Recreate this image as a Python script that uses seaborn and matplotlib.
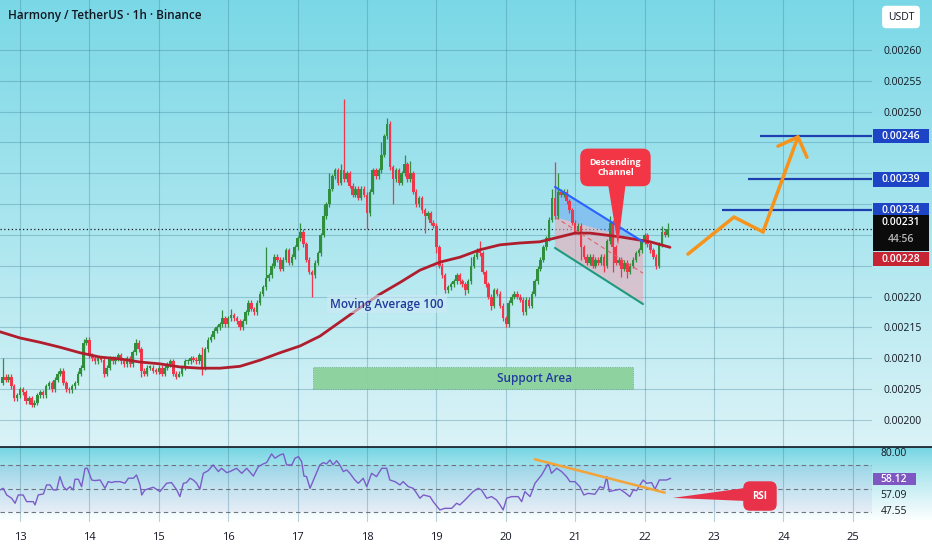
import numpy as np
import pandas as pd
import matplotlib
matplotlib.use('Agg')
import matplotlib.pyplot as plt
from matplotlib.patches import Polygon, Rectangle
import seaborn as sns

sns.set_theme(style='white')
plt.rcParams['font.family'] = ['Open Sans', 'DejaVu Sans']

# hourly closes, price in 1e-5 USDT; first candle opens at day 12.75
closes = [
    207, 206.5, 207, 205.5, 203.5, 204, 205, 204.5, 203, 203.5,
    202.5, 202.8, 204, 204.5, 204, 205.5, 206, 205, 206.5, 207.5,
    208, 206, 205, 204.8, 205.5, 206, 207.5, 208.5, 212.5, 213,
    210.5, 210, 209.5, 210, 209.8, 207.5, 208.5, 210, 209.5, 210,
    210.5, 209.5, 209, 210, 209, 211, 212.5, 211.5, 208, 207.5,
    208.5, 208.5, 208, 207.8, 208.5, 207.5, 208.5, 209, 209.5, 207.5,
    207, 207.5, 208.5, 209.5, 209.5, 210, 209.8, 209.5, 210.5, 208.5,
    211.5, 213, 213.5, 214.5, 215, 215.5, 216.5, 215.5, 216.5, 217,
    216.5, 216, 215, 216, 217.5, 219, 218, 217.5, 219, 220.5,
    221.5, 223, 223.5, 225, 226.5, 226, 224.5, 226, 227.5, 225.5,
    226.5, 228, 229.5, 230.5, 228.5, 226, 224, 223.5, 225.5, 227,
    230, 233, 235, 237.5, 239.5, 240.5, 238.5, 240.5, 239, 240,
    238, 236.5, 237.5, 236, 237.5, 236.5, 233.5, 237, 240.5, 239.5,
    240.5, 243, 246, 248, 241, 239, 240.5, 238.5, 240, 241.5,
    239, 240, 237, 235, 236, 234, 233, 233.5, 232, 231.5,
    228, 225, 223.5, 221, 221.5, 222, 222.5, 223.5, 222.5, 222,
    221, 222.5, 225, 226.5, 227.5, 227, 224, 222, 220, 218.5,
    221, 220.5, 218.5, 216.5, 215.5, 219, 220, 220.5, 220, 219.5,
    217.5, 219.5, 218.5, 220.5, 222.5, 224.5, 226, 228, 229.5, 232.5,
    236, 233, 237, 236.5, 237, 235.5, 234, 232, 230.5, 231.5,
    228, 226.5, 225.5, 226.5, 225, 226, 225.5, 226.5, 225, 229,
    232, 228, 225.5, 226, 224.5, 225.5, 224, 225, 226, 227,
    227.5, 229, 230, 228.5, 227.5, 226.5, 225, 228.5, 230.5, 230,
    231,
]
first_open = 206
wick_hi = {0: 210, 28: 213.2, 46: 213.2, 69: 211.8, 76: 217.8, 79: 218, 91: 228,
           103: 232, 111: 235, 113: 240, 117: 241.5, 118: 252, 131: 245, 133: 249,
           139: 243, 141: 242, 162: 226.5, 165: 229, 190: 237.5, 191: 241.8,
           192: 240, 210: 233, 228: 231.5, 230: 232}
wick_lo = {4: 203, 11: 202.1, 35: 207, 48: 207, 61: 206.9, 69: 207.3, 107: 220,
           126: 231, 135: 235, 146: 230.3, 150: 227, 160: 220.3, 169: 217.8,
           174: 215, 180: 217, 200: 226, 208: 224, 211: 224, 214: 223.2,
           216: 223, 226: 224.5}

ma_days = [12.712, 13.0, 13.288, 13.576, 13.865, 14.153, 14.441, 14.729, 15.017,
           15.305, 15.594, 15.882, 16.17, 16.458, 16.746, 17.035, 17.323, 17.611,
           17.899, 18.187, 18.476, 18.764, 19.052, 19.34, 19.628, 19.916, 20.205,
           20.493, 20.781, 20.997, 21.213, 21.429, 21.646, 21.862, 22.078, 22.366]
ma_vals = [214.3, 213.3, 212.6, 211.8, 210.9, 210.2, 209.9, 209.4, 209.1,
           208.6, 208.4, 208.4, 208.7, 209.7, 210.9, 212.0, 213.6, 215.9,
           218.2, 220.4, 222.3, 224.3, 225.6, 226.4, 227.6, 228.4, 228.7,
           228.9, 229.7, 230.3, 230.3, 230.0, 229.7, 229.3, 228.9, 228.0]

# RSI, hour index (same clock as candles) and value
rsi_hour = [-0.9, 0.2, 1.4, 3.1, 4.3, 5.4, 7.1, 8.3, 10.6, 11.2, 12.3, 14.1, 15.2, 16.4,
            17.5, 18.7, 19.8, 21, 22.1, 23.3, 24.4, 25, 26.2, 27.3, 28.5, 29.3, 30.8,
            31.9, 33.7, 35.4, 36.5, 37.7, 38.8, 40.6, 42.3, 43.5, 45.2, 46.3, 47.5,
            48.1, 49.2, 52.1, 54.4, 56.7, 58.4, 60.2, 61.3, 62.5, 63.6, 64.8, 65.9,
            67.1, 68.2, 69.4, 71.1, 72.8, 74.6, 75.7, 77.5, 78.6, 80.9, 82.7, 84.4,
            86.7, 88.4, 90.1, 91.3, 93, 94.2, 95.9, 97.1, 98.2, 100, 101.1, 102.3,
            103.4, 104.2, 105.1, 106.3, 108, 109.7, 110.9, 112, 113.2, 114.3, 115.5,
            116.6, 117.8, 119, 120.1, 121.8, 123, 124.7, 125.9, 127.6, 129.3, 131.1,
            132.8, 133.9, 135.7, 137.4, 138.5, 140.3, 142, 143.2, 144.3, 145.5, 147.8,
            148.9, 151.2, 152.9, 155.3, 157, 158.1, 159.9, 162.7, 164.5, 165.6, 167.4,
            169.1, 170.8, 172, 173.1, 174.3, 176, 178.3, 179.5, 180.6, 182.4, 184.1,
            186.4, 188.7, 189.8, 191.6, 193.3, 195, 196.2, 197.9, 199.6, 201, 202.5,
            204.8, 206.6, 207.9, 208.9, 209.8, 211.1, 213.5, 215.2, 216.9, 218.1,
            219.2, 221.5, 222.7, 224.4, 225.6, 227.1, 229.6, 231]
rsi_vals = [48.9, 50.3, 44.6, 41.8, 37.5, 44.6, 44.6, 38.9, 38.9, 36.1, 44.6, 45.5, 53.2, 53.2,
            48.9, 48.9, 60.3, 51.7, 48.9, 51.7, 48.9, 58.0, 58.0, 51.7, 67.4, 67.4, 57.4,
            56.9, 57.4, 50.3, 56.0, 55.2, 56.0, 56.0, 54.6, 58.9, 58.9, 61.7, 53.2,
            44.6, 48.9, 51.2, 47.5, 54.6, 55.2, 48.9, 43.2, 54.6, 55.2, 58.9, 57.4,
            54.6, 49.5, 63.1, 65.4, 70.3, 64.6, 67.4, 63.7, 64.6, 67.4, 63.1, 67.4,
            60.8, 68.8, 71.1, 72.3, 79.7, 76.0, 78.8, 79.7, 70.3, 70.3, 76.0, 77.4,
            73.1, 60.8, 60.3, 50.3, 60.3, 70.3, 72.3, 71.1, 74.5, 70.3, 73.9,
            70.3, 64.6, 66.0, 63.1, 57.4, 54.6, 58.9, 51.7, 63.1, 60.3, 67.4,
            67.4, 57.4, 56.0, 53.2, 56.0, 51.7, 50.3, 46.0, 41.8, 44.6, 43.2,
            38.9, 31.8, 33.2, 33.2, 37.5, 36.1, 40.3, 47.5, 50.3, 48.9, 41.8,
            43.2, 40.3, 36.1, 31.8, 41.8, 43.2, 43.2, 38.9, 47.5, 43.2, 54.6,
            61.7, 71.7, 63.1, 67.4, 64.6, 60.3, 56.0, 56.0, 51.7, 44.6, 46.0,
            45.2, 51.7, 50.3, 60.3, 47.5, 48.3, 49.5, 46.6, 43.2, 48.9,
            48.3, 57.4, 54.6, 55.2, 49.5, 57.4, 57.4, 58.9]

day_ticks = list(range(13, 26))
price_ticks = [200, 205, 210, 215, 220, 225, 230, 235, 240, 245, 250, 255, 260]
# labels that sit under the price badges in the original
hidden_ticks = [225, 230, 235, 240, 245]
targets = [246, 239, 234]
target_start = [23.663, 23.49, 23.115]
last_price = 231
ma_last = 228
rsi_last = 58.12
rsi_ma_last = 57.09
rsi_lower = 47.55

GREEN = '#2f8f3c'
RED = '#f0364a'
NAVY = '#1f3a9c'

fig = plt.figure(figsize=(9.32, 5.5), dpi=100)
fig.patch.set_facecolor('white')

# background gradients (main pane and RSI pane)
bg = fig.add_axes([0, 0, 1, 1], zorder=0)
img = np.ones((550, 1, 3))
top_c = np.array([122, 216, 230]) / 255
bot_c = np.array([218, 243, 247]) / 255
f = np.linspace(0, 1, 447)[:, None]
img[:447, 0, :] = top_c * (1 - f) + bot_c * f
rtop = np.array([112, 212, 226]) / 255
f2 = np.linspace(0, 1, 75)[:, None] ** 0.8
img[447:522, 0, :] = rtop * (1 - f2) + np.ones(3) * f2
bg.imshow(img, aspect='auto', extent=[0, 1, 0, 1], origin='upper')
bg.axis('off')

W = 872 / 932
ax = fig.add_axes([0, 1 - 447 / 550, W, 447 / 550], zorder=2)
rsi = fig.add_axes([0, 1 - 522 / 550, W, 75 / 550], zorder=2, sharex=ax)
for a in (ax, rsi):
    a.set_facecolor('none')
    for s in a.spines.values():
        s.set_visible(False)

ax.set_xlim(12.712, 25.277)
ax.set_ylim(195.62, 268.1)
rsi.set_ylim(21.5, 85.6)

grid_c = (0.25, 0.5, 0.58, 0.35)
for d in day_ticks:
    ax.axvline(d, color=grid_c, lw=0.8, zorder=0)
    rsi.axvline(d, color=grid_c, lw=0.8, zorder=0)
for p in price_ticks:
    ax.axhline(p, color=grid_c, lw=0.8, zorder=0)

# candles
df = pd.DataFrame({'close': closes})
df['open'] = df['close'].shift(1).fillna(first_open)
df['t'] = 12.75 + df.index / 24
for i, r in df.iterrows():
    o, c = r['open'], r['close']
    col = GREEN if c >= o else RED
    hi = max(wick_hi.get(i, max(o, c) + 0.4), o, c)
    lo = min(wick_lo.get(i, min(o, c) - 0.4), o, c)
    ax.vlines(r['t'], lo, hi, color=col, lw=0.9, zorder=3)
    ax.bar(r['t'], max(abs(c - o), 0.3), bottom=min(o, c), width=0.88 / 24,
           color=col, lw=0, zorder=3)

# moving average
sns.lineplot(x=ma_days, y=ma_vals, ax=ax, color='#b01e2e', lw=2, zorder=4)

# current price line
ax.axhline(last_price, color='#131722', lw=0.9, ls=(0, (1, 2)), zorder=2)

# descending channel
ch_x0, ch_x1 = 20.709, 21.977
ax.add_patch(Polygon([(ch_x0, 237.8), (ch_x1, 228.9), (ch_x0, 232.9)],
                     closed=True, fc='#6aa6f2', alpha=0.55, lw=0, zorder=2))
ax.add_patch(Polygon([(ch_x0, 232.9), (ch_x1, 228.9), (ch_x1, 218.8), (ch_x0, 227.9)],
                     closed=True, fc='#f0a5b4', alpha=0.55, lw=0, zorder=2))
ax.plot([ch_x0, ch_x1], [237.8, 228.9], color='#2962ff', lw=1.5, zorder=5)
ax.plot([ch_x0, ch_x1], [227.9, 218.8], color='#1f9a7c', lw=1.5, zorder=5)
ax.plot([ch_x0, ch_x1], [232.9, 223.8], color='#e06070', lw=0.8, ls=(0, (4, 3)), zorder=5)

# callout for the channel
ax.add_patch(Polygon([(21.47, 238.5), (21.73, 238.5), (21.617, 228.3)],
                     closed=True, fc='#f23645', lw=0, zorder=6))
ax.text(21.58, 240.95, 'Descending\nChannel', ha='center', va='center', color='white',
        fontsize=6.5, fontweight='bold', linespacing=1.1, zorder=7,
        bbox=dict(boxstyle='round,pad=1.05,rounding_size=0.9', fc='#f23645', ec='none'))

# target levels
for lvl, x0 in zip(targets, target_start):
    ax.hlines(lvl, x0, 25.277, color='#1d3fb0', lw=1.6, zorder=5)

# projected path
ax.plot([22.625, 23.288, 23.706, 24.21], [226.9, 232.9, 230.5, 245.9],
        color='#f7931a', lw=2.5, solid_capstyle='round', solid_joinstyle='miter', zorder=6)
ax.plot([23.922, 24.21, 24.34], [244.4, 245.9, 242.6], color='#f7931a', lw=2.5,
        solid_capstyle='round', zorder=6)

# support area
ax.add_patch(Rectangle((17.222, 205.0), 21.833 - 17.222, 3.6, fc='#8bd19c', alpha=0.95,
                       ec='#5f9f78', lw=0.6, ls=':', zorder=2))
ax.text(20.421, 206.7, 'Support Area', ha='center', va='center', color=NAVY,
        fontsize=8.5, fontweight='semibold', zorder=7)
ax.text(18.288, 218.8, 'Moving Average 100', ha='center', va='center', color=NAVY,
        fontsize=8.5, fontweight='semibold', zorder=7,
        bbox=dict(boxstyle='square,pad=0.25', fc='#cfe9f6', ec='none', alpha=0.6))

# price axis on the right
ax.yaxis.tick_right()
ax.set_yticks(price_ticks)
ax.set_yticklabels(['' if p in hidden_ticks else f'{p * 1e-5:.5f}' for p in price_ticks])
ax.tick_params(axis='y', length=0, pad=8, labelsize=7.5, labelcolor='#131722')
ax.tick_params(axis='x', length=0, labelbottom=False)

ytr = ax.get_yaxis_transform()
def badge(y0, y1, color):
    ax.add_patch(Rectangle((1.001, y0), 0.064, y1 - y0, transform=ytr, fc=color,
                           ec='none', clip_on=False, zorder=8))

for lvl in targets:
    badge(lvl - 1.15, lvl + 1.15, '#1e44c6')
    ax.text(1.033, lvl, f'{lvl * 1e-5:.5f}', transform=ytr, ha='center', va='center',
            color='white', fontsize=7.5, fontweight='semibold', clip_on=False, zorder=9)
badge(227.4, 233.2, '#0b0b0b')
ax.text(1.033, 232.1, f'{last_price * 1e-5:.5f}', transform=ytr, ha='center', va='center',
        color='white', fontsize=7.5, fontweight='semibold', clip_on=False, zorder=9)
ax.text(1.033, 229.2, '44:56', transform=ytr, ha='center', va='center',
        color='#b8b8b8', fontsize=7.5, fontweight='semibold', clip_on=False, zorder=9)
badge(224.9, 227.2, '#c62333')
ax.text(1.033, 226.05, f'{ma_last * 1e-5:.5f}', transform=ytr, ha='center', va='center',
        color='white', fontsize=7.5, fontweight='semibold', clip_on=False, zorder=9)

# RSI pane
rsi.axhspan(30, 70, color='#7e57c2', alpha=0.08, lw=0, zorder=1)
for lv in (70, 50, 30):
    rsi.axhline(lv, color='#6f7580', lw=0.8, ls=(0, (4, 3)), zorder=2)
rsi_days = [12.75 + h / 24 for h in rsi_hour]
sns.lineplot(x=rsi_days, y=rsi_vals, ax=rsi, color='#7a5cc8', lw=1.0, zorder=4)
rsi.plot([20.42, 22.29], [75.1, 46.6], color='#f2a33a', lw=1.8, zorder=5)
rsi.add_patch(Polygon([(22.409, 42.1), (23.45, 50.6), (23.45, 39.5)], closed=True,
                      fc='#e8324a', lw=0, zorder=6))
rsi.text(23.663, 43.7, 'RSI', ha='center', va='center', color='white', fontsize=7,
         fontweight='bold', zorder=7,
         bbox=dict(boxstyle='round,pad=0.95,rounding_size=0.7', fc='#e8324a', ec='none'))
rsi.set_yticks([])
rsi.set_xticks(day_ticks)
rsi.set_xticklabels([str(d) for d in day_ticks])
rsi.tick_params(axis='x', length=0, pad=7, labelsize=8, labelcolor='#131722')
rsi.set_xlabel('')
rsi.set_ylabel('')
ax.set_xlabel('')
ax.set_ylabel('')

rtr = rsi.get_yaxis_transform()
rsi.text(1.01, 80, '80.00', transform=rtr, va='center', ha='left', fontsize=7.5,
         color='#131722', clip_on=False)
rsi.add_patch(Rectangle((1.001, rsi_last - 5.3), 0.05, 10.6, transform=rtr, fc='#7e57c2',
                        ec='none', clip_on=False, zorder=8))
rsi.text(1.01, rsi_last, f'{rsi_last:.2f}', transform=rtr, va='center', ha='left',
         fontsize=7.5, color='white', fontweight='semibold', clip_on=False, zorder=9)
rsi.text(1.01, 43.8, f'{rsi_ma_last:.2f}', transform=rtr, va='center', ha='left',
         fontsize=7.5, color='#131722', clip_on=False)
rsi.text(1.01, 30.2, f'{rsi_lower:.2f}', transform=rtr, va='center', ha='left',
         fontsize=7.5, color='#131722', clip_on=False)

# pane separator
fig.add_artist(plt.Line2D([0, 1], [1 - 446.5 / 550] * 2, color='#131722', lw=1.2,
                          transform=fig.transFigure, zorder=10))

# header and currency box
fig.text(8 / 932, 1 - 16 / 550, 'Harmony / TetherUS · 1h · Binance', fontsize=8.5,
         fontweight='semibold', color='#131722', va='center', ha='left')
fig.text(901 / 932, 1 - 17 / 550, 'USDT', fontsize=7.5, color='#131722', ha='center',
         va='center', bbox=dict(boxstyle='round,pad=0.55,rounding_size=0.4', fc='white',
                                ec='none'))

fig.savefig('out.png', dpi=100)
